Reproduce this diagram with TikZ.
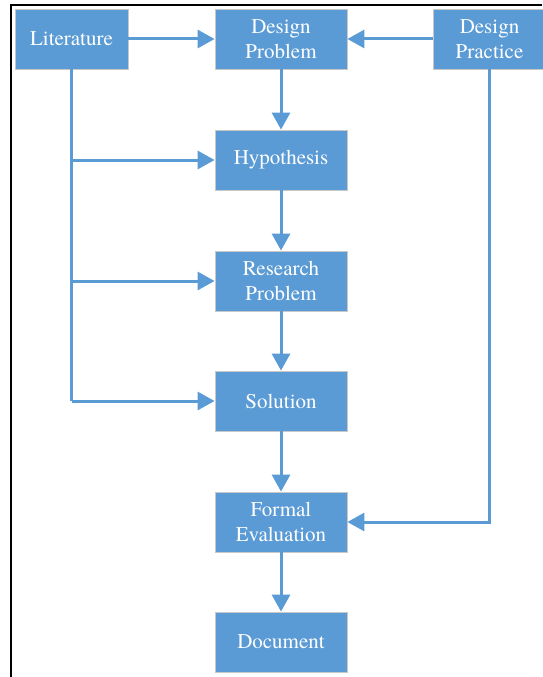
\documentclass[tikz,border=0pt]{standalone}
\usepackage{fontspec}
\setmainfont{TeX Gyre Termes}
\usetikzlibrary{arrows.meta}
\definecolor{boxblue}{HTML}{5B9BD5}
\definecolor{boxedge}{HTML}{C8C8C8}
\tikzset{
  stage/.style={draw=boxedge, line width=0.8pt, fill=boxblue, text=white,
    minimum width=132pt, minimum height=60pt, inner sep=0pt,
    align=center, font=\fontsize{21}{25.5}\selectfont},
  source/.style={stage, minimum width=113pt},
  flow/.style={draw=boxblue, line width=3pt,
    -{Triangle[length=17pt, width=18pt]}},
  link/.style={draw=boxblue, line width=3pt},
  frame/.style={draw=black, line width=2pt}
}
\begin{document}
\begin{tikzpicture}[x=1pt, y=-1pt]
  \useasboundingbox (0,0) rectangle (542,677);
  % outer frame (left and top edges)
  \draw[frame] (11,677) -- (11,5) -- (542,5);

  % nodes
  \node[source] (lit)  at (71.5,39)  {Literature};
  \node[stage]  (dprob) at (281,39)   {Design\\Problem};
  \node[source] (prac) at (489.5,39) {Design\\Practice};
  \node[stage]  (hyp)  at (281,160)  {Hypothesis};
  \node[stage]  (rprob) at (281,281)  {Research\\Problem};
  \node[stage]  (sol)  at (281,401)  {Solution};
  \node[stage]  (eval) at (281,522)  {Formal\\Evaluation};
  \node[stage]  (doc)  at (281,642)  {Document};

  % top row
  \draw[flow] (lit.east) -- (dprob.west);
  \draw[flow] (prac.west) -- (dprob.east);

  % main chain
  \draw[flow] (dprob.south) -- (hyp.north);
  \draw[flow] (hyp.south) -- (rprob.north);
  \draw[flow] (rprob.south) -- (sol.north);
  \draw[flow] (sol.south) -- (eval.north);
  \draw[flow] (eval.south) -- (doc.north);

  % literature feeds
  \draw[link] (lit.south) -- (lit.south |- sol.west);
  \draw[flow] (lit.south |- hyp.west) -- (hyp.west);
  \draw[flow] (lit.south |- rprob.west) -- (rprob.west);
  \draw[flow] (lit.south |- sol.west) -- (sol.west);

  % practice feeds evaluation
  \draw[flow] (prac.south) |- (eval.east);
\end{tikzpicture}
\end{document}
